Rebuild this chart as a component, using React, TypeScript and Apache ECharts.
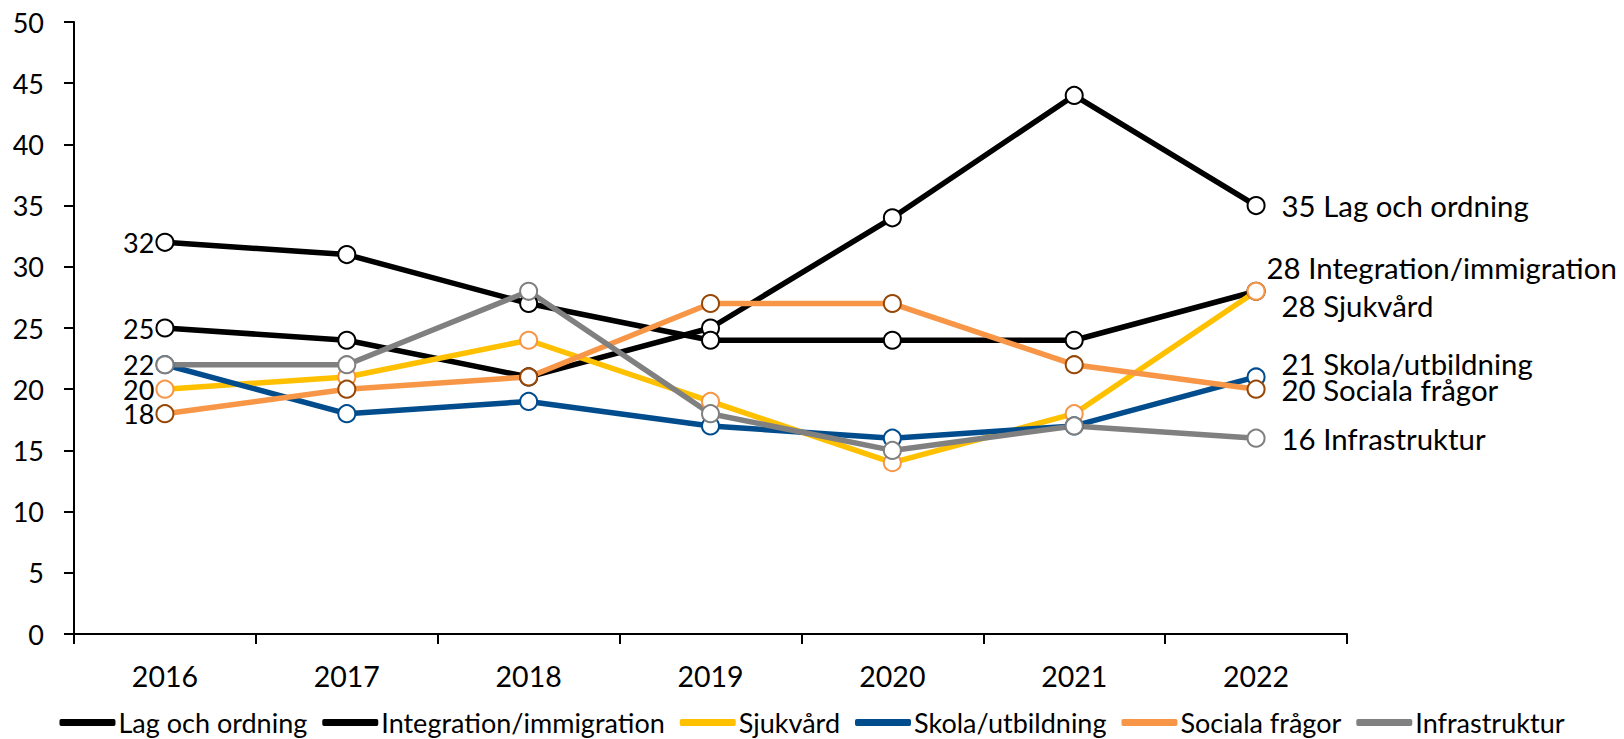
import React, { useEffect, useRef } from "react";
import * as echarts from "echarts";

const years = ["2016", "2017", "2018", "2019", "2020", "2021", "2022"];
const yTicks = [0, 5, 10, 15, 20, 25, 30, 35, 40, 45, 50];

const lagOchOrdning = [25, 24, 21, 25, 34, 44, 35];
const integration = [32, 31, 27, 24, 24, 24, 28];
const sjukvard = [20, 21, 24, 19, 14, 18, 28];
const skola = [22, 18, 19, 17, 16, 17, 21];
const sociala = [18, 20, 21, 27, 27, 22, 20];
const infrastruktur = [22, 22, 28, 18, 15, 17, 16];

const seriesNames = [
  "Lag och ordning",
  "Integration/immigration",
  "Sjukvård",
  "Skola/utbildning",
  "Sociala frågor",
  "Infrastruktur",
];

const FONT = "Lato";

export default function App() {
  const ref = useRef<HTMLDivElement>(null);

  useEffect(() => {
    if (!ref.current) return;
    const chart = echarts.init(ref.current, null, { renderer: "svg" });

    const cfg = [
      { name: seriesNames[0], data: lagOchOrdning, line: "#000000", border: "#000000", left: true, offset: [0, 0] },
      { name: seriesNames[1], data: integration, line: "#000000", border: "#000000", left: true, offset: [-15, -24] },
      { name: seriesNames[2], data: sjukvard, line: "#FFC000", border: "#F79646", left: true, offset: [0, 14] },
      { name: seriesNames[3], data: skola, line: "#004C8C", border: "#004C8C", left: false, offset: [0, -13] },
      { name: seriesNames[4], data: sociala, line: "#F79646", border: "#974806", left: true, offset: [0, 0] },
      { name: seriesNames[5], data: infrastruktur, line: "#808080", border: "#808080", left: true, offset: [0, 0] },
    ];

    const series = cfg.map((c) => ({
      type: "line",
      name: c.name,
      symbol: "circle",
      symbolSize: 17,
      lineStyle: { color: c.line, width: 5.5 },
      itemStyle: { color: "#ffffff", borderColor: c.border, borderWidth: 2 },
      emphasis: { disabled: true },
      data: c.data.map((v, i) => {
        if (i === 0 && c.left) {
          return {
            value: v,
            label: {
              show: true,
              position: "left",
              distance: 1,
              formatter: "{c}",
              color: "#000",
              fontFamily: FONT,
              fontSize: 27,
              lineHeight: 22,
            },
          };
        }
        if (i === c.data.length - 1) {
          return {
            value: v,
            label: {
              show: true,
              position: "right",
              distance: 16,
              offset: c.offset,
              formatter: "{c} {a}",
              color: "#000",
              fontFamily: FONT,
              fontSize: 29.4,
              lineHeight: 23,
            },
          };
        }
        return v;
      }),
    }));

    chart.setOption({
      animation: false,
      textStyle: { fontFamily: FONT },
      grid: { left: 74, right: 277, top: 22, bottom: 105, containLabel: false },
      legend: {
        top: 709,
        left: "center",
        padding: 0,
        itemGap: 15,
        itemWidth: 56,
        itemHeight: 7,
        textStyle: { fontFamily: FONT, fontSize: 27, color: "#000", padding: [0, 0, 0, -2] },
        data: cfg.map((c) => ({
          name: c.name,
          icon: "roundRect",
          itemStyle: { color: c.line, borderWidth: 0 },
        })),
      },
      xAxis: {
        type: "category",
        data: years,
        boundaryGap: true,
        axisLine: { lineStyle: { color: "#000", width: 2 } },
        axisTick: { show: true, length: 10, lineStyle: { color: "#000", width: 2 } },
        axisLabel: { color: "#000", fontFamily: FONT, fontSize: 28.5, margin: 27 },
        splitLine: { show: false },
      },
      yAxis: {
        type: "value",
        min: yTicks[0],
        max: yTicks[yTicks.length - 1],
        interval: 5,
        axisLine: { show: true, lineStyle: { color: "#000", width: 2 } },
        axisTick: { show: true, length: 10, lineStyle: { color: "#000", width: 2 } },
        axisLabel: { color: "#000", fontFamily: FONT, fontSize: 27, margin: 30 },
        splitLine: { show: false },
      },
      series,
    });

    return () => chart.dispose();
  }, []);

  return (
    <div
      ref={ref}
      style={{ position: "fixed", left: 0, top: 0, width: 1624, height: 739, background: "#fff" }}
    />
  );
}
